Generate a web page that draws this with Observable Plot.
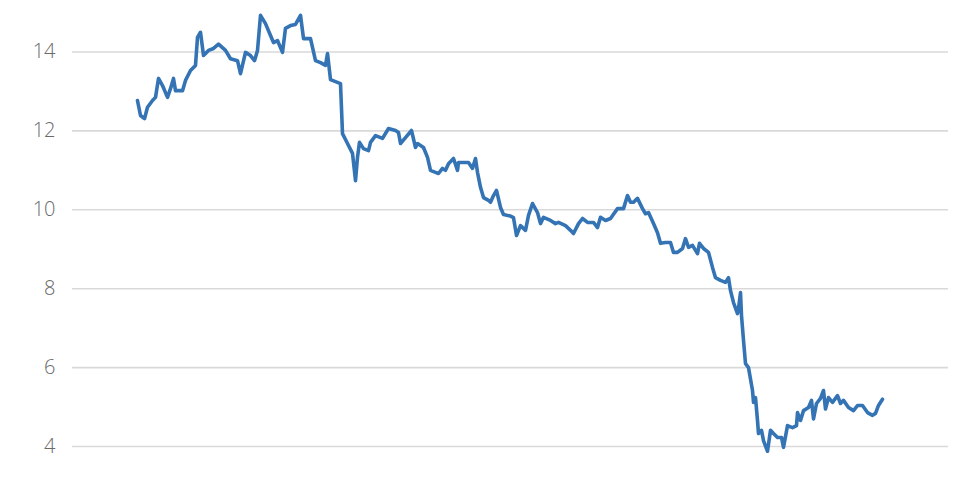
<!DOCTYPE html>
<html>
<head>
<meta charset="utf-8">
<script src="https://cdn.jsdelivr.net/npm/d3@7"></script>
<script src="https://cdn.jsdelivr.net/npm/@observablehq/plot@0.6"></script>
<style>
  html, body { margin: 0; padding: 0; background: #fff; }
  #chart svg { display: block; }
</style>
</head>
<body>
<div id="chart"></div>
<script>
// Index of each observation (trading-day position along the series)
const day = [
  0, 3, 7, 10, 15, 18, 21, 25, 30, 33, 36, 38, 45, 48, 53, 58, 60, 63, 66, 71,
  76, 81, 88, 93, 100, 103, 108, 113, 117, 120, 123, 128, 133, 136, 140, 145, 148, 153, 158, 163,
  166, 173, 178, 183, 188, 190, 193, 203, 205, 210, 215, 218, 220, 222, 226, 231, 233, 238, 245, 251,
  258, 261, 263, 268, 274, 278, 280, 286, 290, 293, 298, 301, 305, 308, 311, 316, 320, 321, 326, 331,
  335, 338, 340, 343, 346, 351, 353, 356, 359, 363, 366, 373, 376, 379, 383, 388, 391, 395, 400, 403,
  406, 413, 418, 421, 428, 433, 436, 441, 445, 450, 456, 460, 463, 468, 473, 480, 486, 490, 493, 496,
  500, 505, 508, 511, 516, 520, 523, 528, 533, 536, 540, 545, 548, 551, 555, 560, 562, 566, 571, 575,
  578, 583, 588, 591, 593, 596, 600, 601, 603, 604, 606, 608, 611, 615, 616, 618, 620, 621, 624, 626,
  630, 633, 636, 640, 644, 646, 650, 655, 659, 660, 663, 666, 671, 674, 676, 679, 683, 686, 688, 691,
  695, 700, 703, 706, 711, 716, 720, 725, 730, 735, 738, 741, 745
];
const value = [
  12.77, 12.39, 12.31, 12.6, 12.77, 12.85, 13.33, 13.15, 12.85, 13.07, 13.33, 13.02, 13.02, 13.28, 13.53, 13.66, 14.37, 14.5, 13.91, 14.04,
  14.09, 14.2, 14.04, 13.83, 13.78, 13.45, 13.99, 13.91, 13.78, 14.04, 14.93, 14.72, 14.42, 14.24, 14.29, 13.99, 14.6, 14.67, 14.7, 14.93,
  14.34, 14.34, 13.78, 13.73, 13.66, 13.96, 13.3, 13.2, 11.93, 11.68, 11.43, 10.74, 11.33, 11.71, 11.55, 11.5, 11.71, 11.88, 11.81, 12.06,
  12.01, 11.96, 11.68, 11.83, 12.01, 11.58, 11.68, 11.58, 11.33, 11.0, 10.95, 10.92, 11.05, 11.0, 11.17, 11.3, 11.0, 11.2, 11.2, 11.2,
  11.05, 11.3, 10.95, 10.57, 10.31, 10.24, 10.19, 10.36, 10.49, 10.06, 9.88, 9.84, 9.8, 9.35, 9.6, 9.48, 9.86, 10.16, 9.93, 9.65,
  9.81, 9.73, 9.65, 9.68, 9.6, 9.48, 9.4, 9.65, 9.78, 9.68, 9.68, 9.55, 9.81, 9.73, 9.78, 10.03, 10.03, 10.36, 10.19, 10.19,
  10.29, 10.03, 9.9, 9.93, 9.65, 9.42, 9.15, 9.17, 9.17, 8.92, 8.92, 9.02, 9.27, 9.05, 9.1, 8.89, 9.15, 9.02, 8.92, 8.54,
  8.28, 8.21, 8.16, 8.28, 7.95, 7.65, 7.37, 7.5, 7.9, 7.32, 6.69, 6.1, 6.0, 5.42, 5.12, 5.24, 4.66, 4.33, 4.41, 4.15,
  3.88, 4.41, 4.33, 4.23, 4.23, 3.98, 4.53, 4.48, 4.53, 4.86, 4.66, 4.91, 4.99, 5.17, 4.7, 5.09, 5.22, 5.42, 4.95, 5.24,
  5.12, 5.29, 5.09, 5.17, 4.99, 4.91, 5.04, 5.04, 4.86, 4.79, 4.84, 5.04, 5.2
];
const yTicks = [4, 6, 8, 10, 12, 14];

const data = day.map((d, i) => ({day: d, value: value[i]}));

const chart = Plot.plot({
  width: 962,
  height: 503,
  marginLeft: 72,
  marginRight: 14,
  marginTop: 10,
  marginBottom: 10,
  style: {fontFamily: "'Open Sans', sans-serif", background: "#fff"},
  x: {domain: [-65, 811], axis: null},
  y: {domain: [2.809, 15.052], ticks: yTicks, tickSize: 0, tickPadding: 17, label: null},
  marks: [
    Plot.ruleY(yTicks, {stroke: "#d9d9d9", strokeWidth: 1.6}),
    Plot.axisY({ticks: yTicks, tickSize: 0, tickPadding: 17, label: null, fontSize: 20, fill: "#6a6a6a", fontWeight: 300}),
    Plot.line(data, {x: "day", y: "value", stroke: "#3474b4", strokeWidth: 3.6, strokeLinejoin: "round", strokeLinecap: "round"})
  ]
});
document.getElementById("chart").appendChild(chart);
</script>
</body>
</html>
